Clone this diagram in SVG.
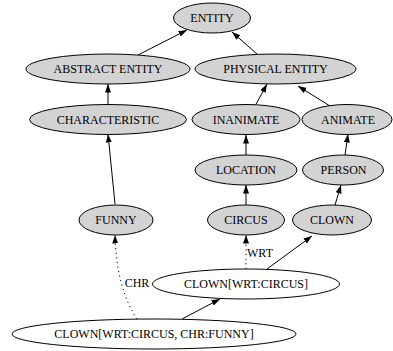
<svg xmlns="http://www.w3.org/2000/svg" width="393" height="351" viewBox="0 0 393 351" font-family="'Liberation Serif', 'DejaVu Serif', serif">
  <style>
    .node ellipse { stroke: #000; stroke-width: 1; }
    .gray ellipse { fill: #d3d3d3; }
    .white ellipse { fill: #fff; }
    text { font-family: 'Liberation Serif', 'Times New Roman', 'DejaVu Serif', serif; font-size: 12px; fill: #000; text-anchor: middle; }
    .edge { fill: none; stroke: #000; stroke-width: 1; marker-end: url(#arrow); }
    .dotted { stroke-dasharray: 1.2 3.4; }
  </style>
  <defs>
    <marker id="arrow" markerUnits="userSpaceOnUse" markerWidth="9" markerHeight="7" refX="8.5" refY="3" orient="auto">
      <path d="M0,0 L8.5,3 L0,6 z" fill="#000"/>
    </marker>
  </defs>
  <rect width="393" height="351" fill="#fff"/>

  <g id="edges">
    <path class="edge" d="M138,55 L187,30"/>
    <path class="edge" d="M257,54 L232,32"/>
    <path class="edge" d="M108,105 L108,84"/>
    <path class="edge" d="M255,106 L267,84"/>
    <path class="edge" d="M330,106 L298,86"/>
    <path class="edge" d="M115,204 L108,134"/>
    <path class="edge" d="M246,155 L246,135"/>
    <path class="edge" d="M246,205 L246,185"/>
    <path class="edge" d="M345,155 L348,134"/>
    <path class="edge" d="M335,205 L341,185"/>
    <path class="edge dotted" d="M246,269 L246,235"/>
    <path class="edge" d="M267,269 L312,236"/>
    <path class="edge dotted" d="M137,319 C124,300 116,272 115,235"/>
    <path class="edge" d="M182,319 L220,299"/>
    <text x="260" y="257">WRT</text>
    <text x="137" y="287">CHR</text>
  </g>

  <g id="entity" class="node gray"><ellipse cx="212" cy="18" rx="38.5" ry="15"/><text x="212" y="22">ENTITY</text></g>
  <g id="abstract-entity" class="node gray"><ellipse cx="108" cy="69" rx="82" ry="15"/><text x="108" y="73">ABSTRACT ENTITY</text></g>
  <g id="physical-entity" class="node gray"><ellipse cx="275.5" cy="69" rx="80.5" ry="15"/><text x="275.5" y="73">PHYSICAL ENTITY</text></g>
  <g id="characteristic" class="node gray"><ellipse cx="108" cy="119.5" rx="78.5" ry="15"/><text x="108" y="123.5">CHARACTERISTIC</text></g>
  <g id="inanimate" class="node gray"><ellipse cx="246" cy="119.5" rx="54" ry="15"/><text x="246" y="123.5">INANIMATE</text></g>
  <g id="animate" class="node gray"><ellipse cx="347" cy="119.5" rx="45" ry="15"/><text x="348" y="123.5">ANIMATE</text></g>
  <g id="location" class="node gray"><ellipse cx="246" cy="170" rx="51" ry="15"/><text x="246" y="174">LOCATION</text></g>
  <g id="person" class="node gray"><ellipse cx="343" cy="170" rx="40.5" ry="15"/><text x="343.5" y="174">PERSON</text></g>
  <g id="funny" class="node gray"><ellipse cx="116" cy="220" rx="37" ry="15"/><text x="116" y="224">FUNNY</text></g>
  <g id="circus" class="node gray"><ellipse cx="246" cy="220" rx="38.5" ry="15"/><text x="246" y="224">CIRCUS</text></g>
  <g id="clown" class="node gray"><ellipse cx="332" cy="220" rx="39.5" ry="15"/><text x="332" y="224">CLOWN</text></g>
  <g id="clown-wrt-circus" class="node white"><ellipse cx="246" cy="284" rx="93.5" ry="15"/><text x="246" y="288">CLOWN[WRT:CIRCUS]</text></g>
  <g id="clown-wrt-circus-chr-funny" class="node white"><ellipse cx="154" cy="334" rx="142" ry="15"/><text x="154" y="338">CLOWN[WRT:CIRCUS, CHR:FUNNY]</text></g>
</svg>
